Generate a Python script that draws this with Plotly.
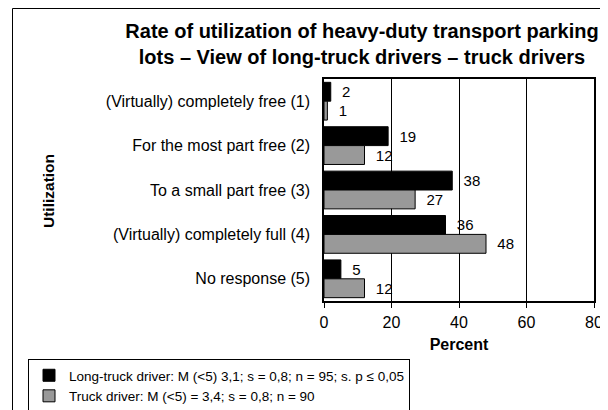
import plotly.graph_objects as go

categories = ["(Virtually) completely free (1)", "For the most part free (2)",
              "To a small part free (3)", "(Virtually) completely full (4)", "No response (5)"]
long_truck = [2, 19, 38, 36, 5]
truck = [1, 12, 27, 48, 12]
series_names = ["Long-truck driver: M (<5) 3,1; s = 0,8; n = 95; s. p \u2264 0,05",
                "Truck driver: M (<5) = 3,4; s = 0,8; n = 90"]
x_ticks = [0, 20, 40, 60, 80]

FONT = "Liberation Sans, Arial, sans-serif"
OFF = 8  # page body margin
W, H = 600, 402
ML = 324 - OFF
MR = W - (594 - OFF)
MT = 79 - OFF
MB = H - (301 - OFF)
PW = W - ML - MR
PH = H - MT - MB

def px_x(px):  # window px -> paper fraction
    return (px - OFF - ML) / PW

def px_y(py):
    return (H - MB - (py - OFF)) / PH

fig = go.Figure()
fig.add_trace(go.Bar(y=categories, x=long_truck, orientation="h", name=series_names[0],
                     marker=dict(color="black", line=dict(color="black", width=1)),
                     text=long_truck, texttemplate="  %{x}", textposition="outside",
                     textfont=dict(color="black", size=15), cliponaxis=False))
fig.add_trace(go.Bar(y=categories, x=truck, orientation="h", name=series_names[1],
                     marker=dict(color="#999999", line=dict(color="black", width=1)),
                     text=truck, texttemplate="  %{x}", textposition="outside",
                     textfont=dict(color="black", size=15), cliponaxis=False))

fig.update_layout(
    width=W, height=H,
    margin=dict(l=ML, r=MR, t=MT, b=MB, autoexpand=False),
    paper_bgcolor="white", plot_bgcolor="white",
    font=dict(family=FONT, color="black", size=15),
    barmode="group", bargap=0.15, bargroupgap=0,
    title=dict(text="<b>Rate of utilization of heavy-duty transport parking<br>lots \u2013 View of long-truck drivers \u2013 truck drivers</b>",
               x=(362 - OFF) / W, xanchor="center", xref="container",
               y=1 - (38 - OFF) / H, yanchor="top", yref="container",
               font=dict(size=20, family=FONT)),
    xaxis=dict(range=[0, 80], tickvals=x_ticks, showgrid=True, gridcolor="black", gridwidth=1,
               showline=True, linecolor="black", linewidth=1.5, mirror=True,
               ticks="outside", ticklen=5, tickcolor="black", zeroline=False,
               tickfont=dict(size=16), ticklabelstandoff=1,
               title=dict(text="<b>Percent</b>", font=dict(size=16), standoff=9)),
    yaxis=dict(autorange="reversed", showline=True, linecolor="black", linewidth=1.5, mirror=True,
               ticks="", tickfont=dict(size=16), ticklabelstandoff=9),
    showlegend=True,
    legend=dict(x=(28 - OFF) / W, xanchor="left", xref="container",
                y=1 - (359 - OFF) / H, yanchor="top", yref="container",
                bordercolor="black", borderwidth=1, bgcolor="white",
                font=dict(size=13.5), tracegroupgap=0, itemwidth=30,
                traceorder="normal"),
    shapes=[dict(type="rect", xref="paper", yref="paper",
                 x0=px_x(12.5), x1=px_x(W + 40), y0=px_y(H + 40), y1=px_y(OFF + 0.5),
                 line=dict(color="black", width=1), layer="below")],
    annotations=[dict(text="<b>Utilization</b>", textangle=-90, xref="paper", yref="paper",
                      x=px_x(48), y=px_y(191), xanchor="center", yanchor="middle",
                      showarrow=False, font=dict(size=15.5))],
)

fig.write_html("out.html")
